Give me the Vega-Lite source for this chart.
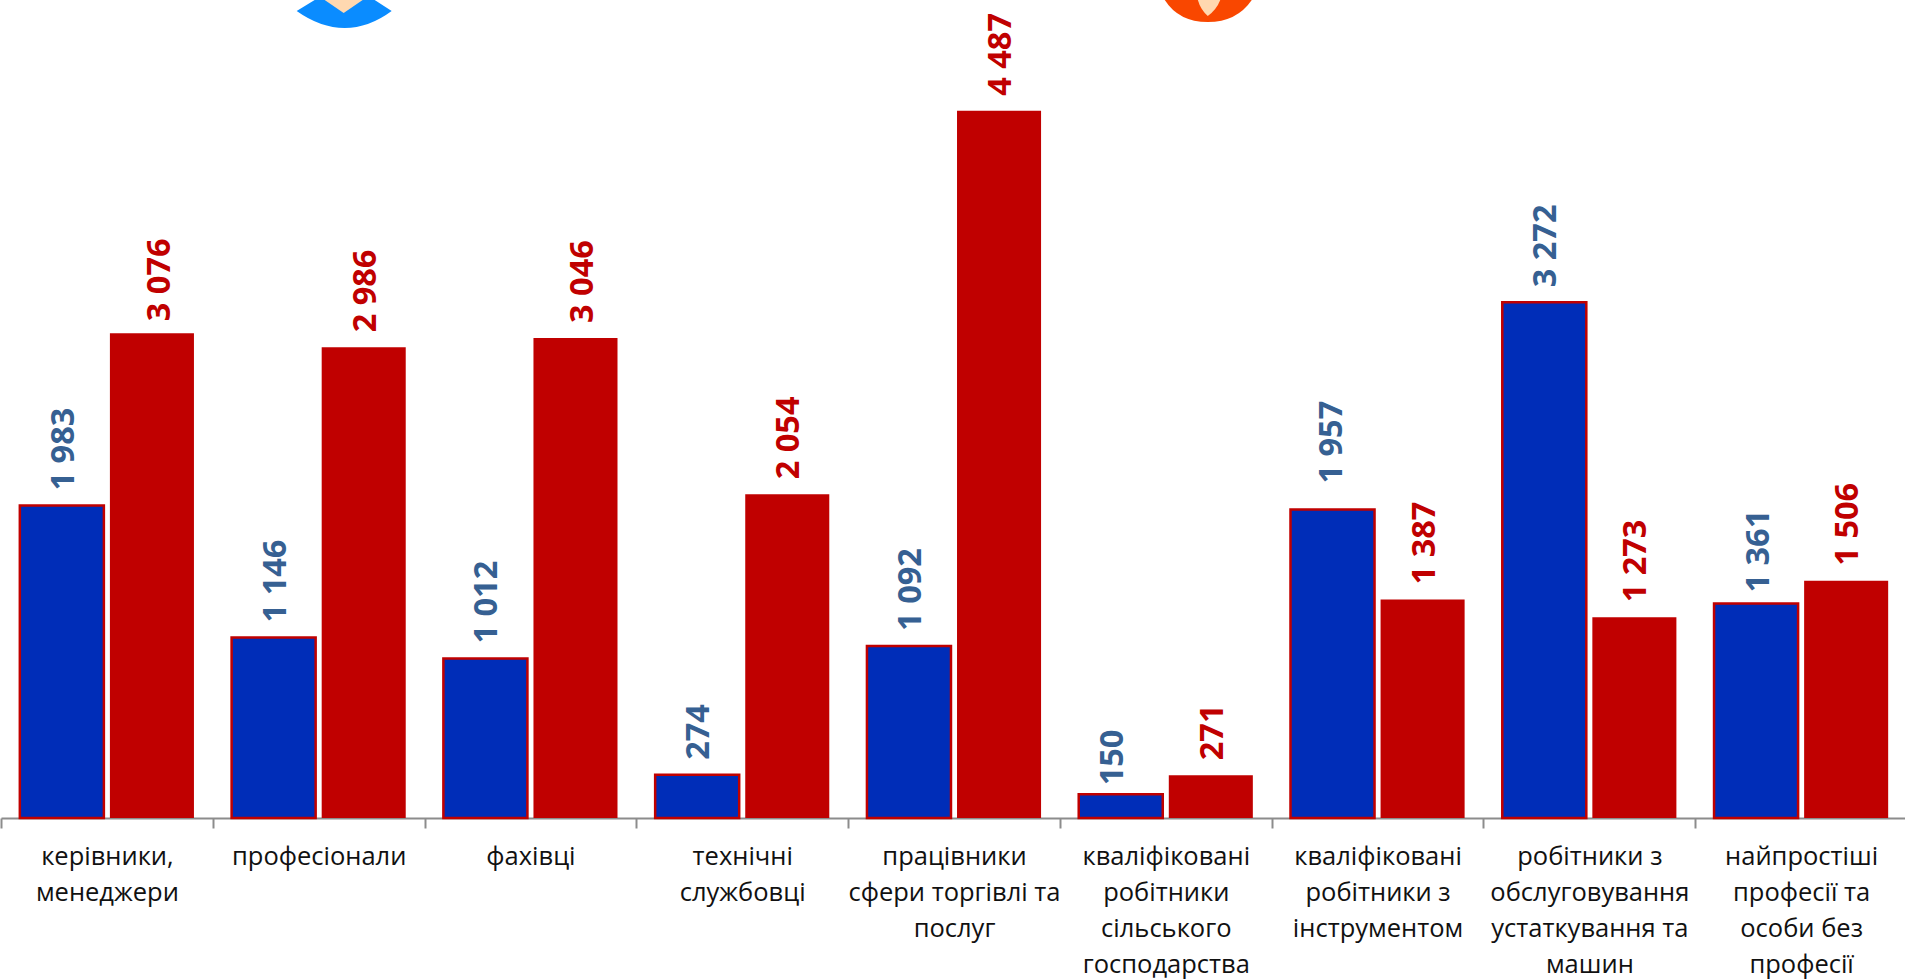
{
"$schema":"https://vega.github.io/schema/vega-lite/v6.json",
"width":1906,"height":818,
"autosize":{"type":"none"},
"padding":{"left":1,"top":0,"right":-2,"bottom":161},
"background":"white",
"config":{"view":{"stroke":null}},
"datasets":{
"rows":[
{"category":"керівники,|менеджери","series":"чоловіки","value":1983,"label":"1 983"},
{"category":"керівники,|менеджери","series":"жінки","value":3076,"label":"3 076"},
{"category":"професіонали","series":"чоловіки","value":1146,"label":"1 146"},
{"category":"професіонали","series":"жінки","value":2986,"label":"2 986"},
{"category":"фахівці","series":"чоловіки","value":1012,"label":"1 012"},
{"category":"фахівці","series":"жінки","value":3046,"label":"3 046"},
{"category":"технічні|службовці","series":"чоловіки","value":274,"label":"274"},
{"category":"технічні|службовці","series":"жінки","value":2054,"label":"2 054"},
{"category":"працівники|сфери торгівлі та|послуг","series":"чоловіки","value":1092,"label":"1 092"},
{"category":"працівники|сфери торгівлі та|послуг","series":"жінки","value":4487,"label":"4 487"},
{"category":"кваліфіковані|робітники|сільського|господарства","series":"чоловіки","value":150,"label":"150"},
{"category":"кваліфіковані|робітники|сільського|господарства","series":"жінки","value":271,"label":"271"},
{"category":"кваліфіковані|робітники з|інструментом","series":"чоловіки","value":1957,"label":"1 957"},
{"category":"кваліфіковані|робітники з|інструментом","series":"жінки","value":1387,"label":"1 387"},
{"category":"робітники з|обслуговування|устаткування та|машин","series":"чоловіки","value":3272,"label":"3 272"},
{"category":"робітники з|обслуговування|устаткування та|машин","series":"жінки","value":1273,"label":"1 273"},
{"category":"найпростіші|професії та|особи без|професії","series":"чоловіки","value":1361,"label":"1 361"},
{"category":"найпростіші|професії та|особи без|професії","series":"жінки","value":1506,"label":"1 506"}
],
"manIcon":[{"category":"професіонали","top":5190}],
"womanIcon":[{"category":"кваліфіковані|робітники|сільського|господарства","top":5190}]
},
"layer":[
{"data":{"name":"rows"},"mark":{"type":"bar","stroke":"#C00000"},
"encoding":{
"x":{"field":"category","type":"nominal","sort":null,"scale":{"paddingInner":0,"paddingOuter":0},
"axis":{"title":null,"labelAngle":0,"labelAlign":"center","labelBaseline":"top","labelExpr":"isValid(datum.value) ? split(datum.value,'|') : ''","labelFont":"Open Sans","labelFontSize":25.5,"labelColor":"#111111","labelLineHeight":36,"labelPadding":16.5,"labelLimit":0,"labelOverlap":false,"tickBand":"extent","tickSize":10,"tickWidth":2,"tickColor":"#8C8C8C","domainColor":"#8C8C8C","domainWidth":2,"grid":false}},
"xOffset":{"field":"series","sort":["чоловіки","жінки"],"scale":{"paddingInner":0.067,"paddingOuter":0.209}},
"y":{"field":"value","type":"quantitative","scale":{"domain":[0,5190],"nice":false},"axis":null},
"color":{"field":"series","scale":{"domain":["чоловіки","жінки"],"range":["#002DB8","#C00000"]},"legend":null},
"strokeWidth":{"condition":{"test":"datum.series === 'чоловіки'","value":2.5},"value":0}
}},
{"data":{"name":"rows"},"transform":[{"filter":"indexof(['3 076','3 046','150','1 957','1 361'],datum.label) < 0"}],
"mark":{"type":"text","angle":270,"align":"left","baseline":"middle","dx":15,"dy":2,"font":"Open Sans","fontWeight":"bold","fontSize":32.5},
"encoding":{"x":{"field":"category","type":"nominal","sort":null},"xOffset":{"field":"series","sort":["чоловіки","жінки"]},"y":{"field":"value","type":"quantitative"},"text":{"field":"label"},
"color":{"field":"series","scale":{"domain":["чоловіки","жінки"],"range":["#366092","#C00000"]},"legend":null}}},
{"data":{"name":"rows"},"transform":[{"filter":"datum.label === '3 076'"}],
"mark":{"type":"text","angle":270,"align":"left","baseline":"middle","dx":12,"dy":8,"font":"Open Sans","fontWeight":"bold","fontSize":32.5,"color":"#C00000"},
"encoding":{"x":{"field":"category","type":"nominal","sort":null},"xOffset":{"field":"series","sort":["чоловіки","жінки"]},"y":{"field":"value","type":"quantitative"},"text":{"field":"label"}}},
{"data":{"name":"rows"},"transform":[{"filter":"datum.label === '3 046'"}],
"mark":{"type":"text","angle":270,"align":"left","baseline":"middle","dx":15,"dy":8,"font":"Open Sans","fontWeight":"bold","fontSize":32.5,"color":"#C00000"},
"encoding":{"x":{"field":"category","type":"nominal","sort":null},"xOffset":{"field":"series","sort":["чоловіки","жінки"]},"y":{"field":"value","type":"quantitative"},"text":{"field":"label"}}},
{"data":{"name":"rows"},"transform":[{"filter":"datum.label === '150'"}],
"mark":{"type":"text","angle":270,"align":"left","baseline":"middle","dx":9,"dy":-8,"font":"Open Sans","fontWeight":"bold","fontSize":32.5,"color":"#366092"},
"encoding":{"x":{"field":"category","type":"nominal","sort":null},"xOffset":{"field":"series","sort":["чоловіки","жінки"]},"y":{"field":"value","type":"quantitative"},"text":{"field":"label"}}},
{"data":{"name":"rows"},"transform":[{"filter":"datum.label === '1 957'"}],
"mark":{"type":"text","angle":270,"align":"left","baseline":"middle","dx":26,"dy":-1,"font":"Open Sans","fontWeight":"bold","fontSize":32.5,"color":"#366092"},
"encoding":{"x":{"field":"category","type":"nominal","sort":null},"xOffset":{"field":"series","sort":["чоловіки","жінки"]},"y":{"field":"value","type":"quantitative"},"text":{"field":"label"}}},
{"data":{"name":"rows"},"transform":[{"filter":"datum.label === '1 361'"}],
"mark":{"type":"text","angle":270,"align":"left","baseline":"middle","dx":11,"dy":3,"font":"Open Sans","fontWeight":"bold","fontSize":32.5,"color":"#366092"},
"encoding":{"x":{"field":"category","type":"nominal","sort":null},"xOffset":{"field":"series","sort":["чоловіки","жінки"]},"y":{"field":"value","type":"quantitative"},"text":{"field":"label"}}},
{"data":{"name":"manIcon"},"mark":{"type":"point","filled":true,"opacity":1,"size":4,"color":"#0A8CFF","shape":"M-22 11 L-4 0 L-4 -5 L56 -5 L56 0 L73 11 Q50 28 26 28 Q2 28 -22 11 Z"},
"encoding":{"x":{"field":"category","type":"nominal","sort":null},"y":{"field":"top","type":"quantitative"}}},
{"data":{"name":"manIcon"},"mark":{"type":"point","filled":true,"opacity":1,"size":4,"color":"#FFD8B0","shape":"M6 -5 L6 0 L25 13 L44 0 L44 -5 Z"},
"encoding":{"x":{"field":"category","type":"nominal","sort":null},"y":{"field":"top","type":"quantitative"}}},
{"data":{"name":"womanIcon"},"mark":{"type":"point","filled":true,"opacity":1,"size":4,"color":"#F94700","shape":"M-1 -5 L-1 0 Q13 22 42 22 Q71 22 86 0 L86 -5 Z"},
"encoding":{"x":{"field":"category","type":"nominal","sort":null},"y":{"field":"top","type":"quantitative"}}},
{"data":{"name":"womanIcon"},"mark":{"type":"point","filled":true,"opacity":1,"size":4,"color":"#FFD8B0","shape":"M31 -5 Q33 8 42 16 Q53 8 56 -5 Z"},
"encoding":{"x":{"field":"category","type":"nominal","sort":null},"y":{"field":"top","type":"quantitative"}}}
],
"resolve":{"scale":{"color":"independent"}}
}
